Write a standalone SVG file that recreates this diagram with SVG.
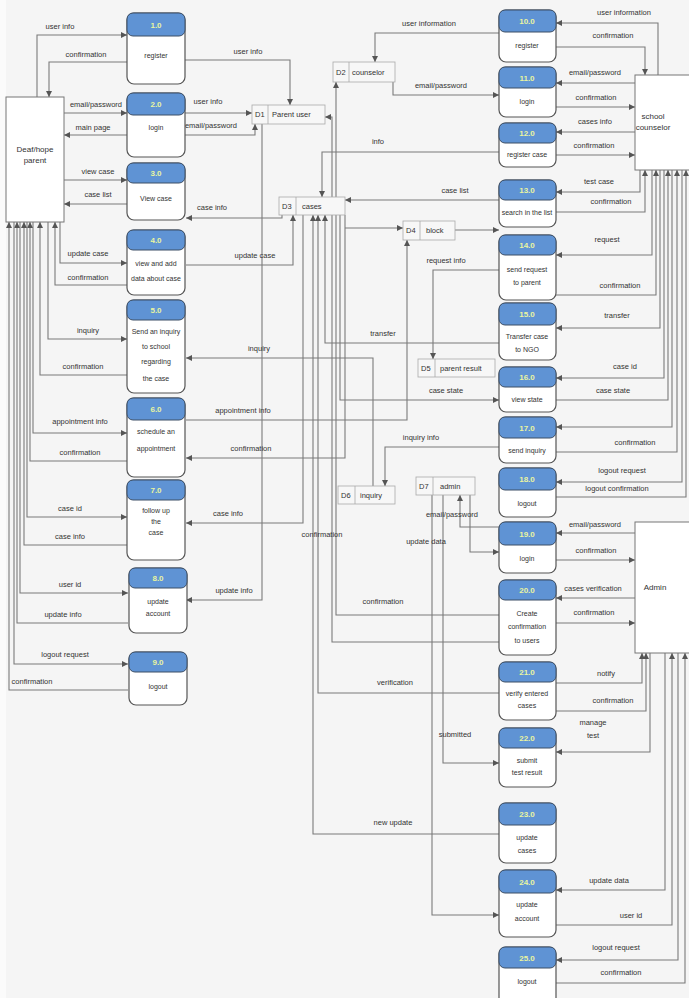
<svg xmlns="http://www.w3.org/2000/svg" width="689" height="998" viewBox="0 0 689 998">
<style>
.bg{fill:#f5f5f5}
.pb{fill:#ffffff;stroke:#555;stroke-width:1.2}
.ph{fill:#5f93d4;stroke:#3d4f66;stroke-width:1}
.pn{font-family:"Liberation Sans",Arial,sans-serif;font-size:8px;font-weight:bold;fill:#eaf5a0;text-anchor:middle}
.pt{font-family:"Liberation Sans",Arial,sans-serif;font-size:7px;fill:#333;text-anchor:middle}
.ent{fill:#ffffff;stroke:#777;stroke-width:1}
.et{font-family:"Liberation Sans",Arial,sans-serif;font-size:8px;fill:#333;text-anchor:middle}
.ds{fill:#f7f7f7;stroke:#aaa;stroke-width:0.8}
.dt{font-family:"Liberation Sans",Arial,sans-serif;font-size:7.5px;fill:#333}
.c{fill:none;stroke:#7a7a7a;stroke-width:1.1;marker-end:url(#ah)}
.cn{fill:none;stroke:#7a7a7a;stroke-width:1.1}
.l{font-family:"Liberation Sans",Arial,sans-serif;font-size:7.5px;fill:#333;text-anchor:middle}
</style>
<defs>
<marker id="ah" markerUnits="userSpaceOnUse" markerWidth="6" markerHeight="6" refX="6" refY="3" orient="auto">
<path d="M0,0 L6,3 L0,6 z" fill="#555"/>
</marker>
</defs>
<rect class="bg" x="0" y="0" width="689" height="998"/>
<rect x="0" y="0" width="6" height="998" fill="#fbfbfb"/>

<g id="connectors">
<!-- left entity flows -->
<polyline class="c" points="37,97 37,35 127,35"/>
<polyline class="c" points="127,62 49,62 49,97"/>
<polyline class="c" points="64,113 127,113"/>
<polyline class="c" points="127,135 64,135"/>
<polyline class="c" points="64,180 127,180"/>
<polyline class="c" points="127,204 64,204"/>
<polyline class="c" points="60,222 60,263 127,263"/>
<polyline class="c" points="127,285 55,285 55,222"/>
<polyline class="c" points="48,222 48,339 127,339"/>
<polyline class="c" points="127,375 40,375 40,222"/>
<polyline class="c" points="33,222 33,433 127,433"/>
<polyline class="c" points="127,461 30,461 30,222"/>
<polyline class="c" points="27,222 27,517 127,517"/>
<polyline class="c" points="127,545 24,545 24,222"/>
<polyline class="c" points="20,222 20,593 128,593"/>
<polyline class="c" points="128,623 17,623 17,222"/>
<polyline class="c" points="14,222 14,664 128,664"/>
<polyline class="c" points="128,690 9,690 9,222"/>
<!-- middle flows, left processes -->
<polyline class="c" points="185,60 290,60 290,105"/>
<polyline class="c" points="185,113 252,113"/>
<polyline class="c" points="185,135 255,135 255,124"/>
<polyline class="c" points="262,124 262,600 186,600"/>
<polyline class="c" points="282,215 282,218 186,218"/>
<polyline class="c" points="186,265 293,265 293,215"/>
<polyline class="c" points="373,486 373,358 186,358"/>
<polyline class="c" points="186,420 407,420 407,240"/>
<polyline class="c" points="345,215 345,458 186,458"/>
<polyline class="c" points="345,228 403,228"/>
<polyline class="c" points="303,215 303,523 186,523"/>
<!-- middle flows, right processes -->
<polyline class="c" points="499,33 375,33 375,62"/>
<polyline class="c" points="393,82 393,95 499,95"/>
<polyline class="c" points="499,152 322,152 322,197"/>
<polyline class="c" points="499,200 345,200"/>
<polyline class="c" points="455,230 499,230"/>
<polyline class="c" points="499,270 433,270 433,359"/>
<polyline class="c" points="499,343 325,343 325,215"/>
<polyline class="c" points="340,215 340,400 499,400"/>
<polyline class="c" points="499,447 385,447 385,486"/>
<polyline class="c" points="499,527 460,527 460,495"/>
<polyline class="c" points="470,495 470,552 499,552"/>
<polyline class="c" points="499,615 336,615 336,82"/>
<polyline class="c" points="499,642 332,642 332,117 325,117"/>
<polyline class="c" points="499,693 318,693 318,215"/>
<polyline class="c" points="443,495 443,763 499,763"/>
<polyline class="c" points="499,834 313,834 313,215"/>
<polyline class="c" points="432,495 432,915 499,915"/>
<!-- right entity flows: school counselor -->
<polyline class="c" points="658,75 658,23 556,23"/>
<polyline class="c" points="556,47 645,47 645,75"/>
<polyline class="c" points="635,83 556,83"/>
<polyline class="c" points="556,107 635,107"/>
<polyline class="c" points="635,132 556,132"/>
<polyline class="c" points="556,155 635,155"/>
<polyline class="c" points="640,170 640,192 556,192"/>
<polyline class="c" points="556,212 645,212 645,170"/>
<polyline class="c" points="652,170 652,255 556,255"/>
<polyline class="c" points="556,295 656,295 656,170"/>
<polyline class="c" points="660,170 660,328 556,328"/>
<polyline class="c" points="664,170 664,378 556,378"/>
<polyline class="c" points="556,400 668,400 668,170"/>
<polyline class="c" points="672,170 672,427 556,427"/>
<polyline class="c" points="556,452 677,452 677,170"/>
<polyline class="c" points="682,170 682,482 556,482"/>
<polyline class="c" points="556,497 686,497 686,170"/>
<!-- right entity flows: admin -->
<polyline class="c" points="635,533 556,533"/>
<polyline class="c" points="556,560 635,560"/>
<polyline class="c" points="635,598 556,598"/>
<polyline class="c" points="556,623 635,623"/>
<polyline class="c" points="556,683 642,683 642,653"/>
<polyline class="c" points="556,711 646,711 646,653"/>
<polyline class="c" points="650,653 650,752 556,752"/>
<polyline class="c" points="665,653 665,890 556,890"/>
<polyline class="c" points="556,925 672,925 672,653"/>
<polyline class="c" points="678,653 678,960 556,960"/>
<polyline class="c" points="556,983 685,983 685,653"/>
</g>

<g id="labels">
<text class="l" x="60" y="29">user info</text>
<text class="l" x="86" y="57">confirmation</text>
<text class="l" x="96" y="107">email/password</text>
<text class="l" x="93" y="130">main page</text>
<text class="l" x="98" y="174">view case</text>
<text class="l" x="98" y="197">case list</text>
<text class="l" x="88" y="256">update case</text>
<text class="l" x="88" y="280">confirmation</text>
<text class="l" x="88" y="333">inquiry</text>
<text class="l" x="83" y="369">confirmation</text>
<text class="l" x="80" y="424">appointment info</text>
<text class="l" x="80" y="455">confirmation</text>
<text class="l" x="70" y="511">case id</text>
<text class="l" x="70" y="539">case info</text>
<text class="l" x="70" y="587">user id</text>
<text class="l" x="63" y="617">update info</text>
<text class="l" x="65" y="657">logout request</text>
<text class="l" x="32" y="684">confirmation</text>
<text class="l" x="248" y="54">user info</text>
<text class="l" x="208" y="104">user info</text>
<text class="l" x="211" y="128">email/password</text>
<text class="l" x="234" y="593">update info</text>
<text class="l" x="212" y="210">case info</text>
<text class="l" x="255" y="258">update case</text>
<text class="l" x="259" y="351">inquiry</text>
<text class="l" x="243" y="413">appointment info</text>
<text class="l" x="251" y="451">confirmation</text>
<text class="l" x="228" y="516">case info</text>
<text class="l" x="322" y="537">confirmation</text>
<text class="l" x="429" y="26">user information</text>
<text class="l" x="441" y="88">email/password</text>
<text class="l" x="378" y="144">info</text>
<text class="l" x="455" y="193">case list</text>
<text class="l" x="446" y="263">request info</text>
<text class="l" x="383" y="336">transfer</text>
<text class="l" x="446" y="393">case state</text>
<text class="l" x="421" y="440">inquiry info</text>
<text class="l" x="452" y="517">email/password</text>
<text class="l" x="426" y="544">update data</text>
<text class="l" x="383" y="604">confirmation</text>
<text class="l" x="395" y="685">verification</text>
<text class="l" x="455" y="737">submitted</text>
<text class="l" x="393" y="825">new update</text>
<text class="l" x="624" y="15">user information</text>
<text class="l" x="613" y="38">confirmation</text>
<text class="l" x="595" y="75">email/password</text>
<text class="l" x="596" y="100">confirmation</text>
<text class="l" x="595" y="124">cases info</text>
<text class="l" x="594" y="148">confirmation</text>
<text class="l" x="599" y="184">test case</text>
<text class="l" x="611" y="204">confirmation</text>
<text class="l" x="607" y="242">request</text>
<text class="l" x="620" y="288">confirmation</text>
<text class="l" x="617" y="318">transfer</text>
<text class="l" x="625" y="369">case id</text>
<text class="l" x="613" y="393">case state</text>
<text class="l" x="635" y="445">confirmation</text>
<text class="l" x="622" y="473">logout request</text>
<text class="l" x="617" y="491">logout confirmation</text>
<text class="l" x="595" y="527">email/password</text>
<text class="l" x="596" y="553">confirmation</text>
<text class="l" x="593" y="591">cases verification</text>
<text class="l" x="594" y="615">confirmation</text>
<text class="l" x="606" y="676">notify</text>
<text class="l" x="613" y="703">confirmation</text>
<text class="l" x="593" y="725">manage</text>
<text class="l" x="593" y="738">test</text>
<text class="l" x="609" y="883">update data</text>
<text class="l" x="631" y="918">user id</text>
<text class="l" x="616" y="950">logout request</text>
<text class="l" x="621" y="975">confirmation</text>
</g>

<g id="E1"><rect class="ent" x="6" y="97" width="58" height="125"/><text class="et" x="35" y="152">Deaf/hope</text><text class="et" x="35" y="163">parent</text></g>
<g id="E2"><rect class="ent" x="635" y="75" width="60" height="95"/><text class="et" x="653" y="119">school</text><text class="et" x="653" y="130">counselor</text></g>
<g id="E3"><rect class="ent" x="635" y="522" width="60" height="131"/><text class="et" x="655" y="590">Admin</text></g>

<g id="D1"><rect class="ds" x="252" y="105" width="73" height="19"/><line x1="268" y1="105" x2="268" y2="124" stroke="#aaa" stroke-width="0.8"/><text class="dt" x="255" y="117">D1</text><text class="dt" x="272" y="117">Parent user</text></g>
<g id="D2"><rect class="ds" x="333" y="62" width="62" height="20"/><line x1="349" y1="62" x2="349" y2="82" stroke="#aaa" stroke-width="0.8"/><text class="dt" x="336" y="75">D2</text><text class="dt" x="352" y="75">counselor</text></g>
<g id="D3"><rect class="ds" x="279" y="197" width="66" height="18"/><line x1="296" y1="197" x2="296" y2="215" stroke="#aaa" stroke-width="0.8"/><text class="dt" x="282" y="209">D3</text><text class="dt" x="302" y="209">cases</text></g>
<g id="D4"><rect class="ds" x="403" y="221" width="52" height="19"/><line x1="420" y1="221" x2="420" y2="240" stroke="#aaa" stroke-width="0.8"/><text class="dt" x="406" y="233">D4</text><text class="dt" x="426" y="233">block</text></g>
<g id="D5"><rect class="ds" x="418" y="359" width="77" height="18"/><line x1="435" y1="359" x2="435" y2="377" stroke="#aaa" stroke-width="0.8"/><text class="dt" x="421" y="371">D5</text><text class="dt" x="440" y="371">parent result</text></g>
<g id="D6"><rect class="ds" x="338" y="486" width="57" height="18"/><line x1="355" y1="486" x2="355" y2="504" stroke="#aaa" stroke-width="0.8"/><text class="dt" x="341" y="498">D6</text><text class="dt" x="360" y="498">inquiry</text></g>
<g id="D7"><rect class="ds" x="416" y="477" width="59" height="18"/><line x1="433" y1="477" x2="433" y2="495" stroke="#aaa" stroke-width="0.8"/><text class="dt" x="419" y="489">D7</text><text class="dt" x="440" y="489">admin</text></g>

<g id="P1"><rect class="pb" x="127" y="13" width="58" height="71" rx="7"/><rect class="ph" x="127" y="13" width="58" height="23" rx="6"/><text class="pn" x="156" y="28">1.0</text><text class="pt" x="156" y="58">register</text></g>
<g id="P2"><rect class="pb" x="127" y="93" width="58" height="64" rx="7"/><rect class="ph" x="127" y="93" width="58" height="22" rx="6"/><text class="pn" x="156" y="107">2.0</text><text class="pt" x="156" y="130">login</text></g>
<g id="P3"><rect class="pb" x="127" y="163" width="58" height="57" rx="7"/><rect class="ph" x="127" y="163" width="58" height="20" rx="6"/><text class="pn" x="156" y="176">3.0</text><text class="pt" x="156" y="201">View case</text></g>
<g id="P4"><rect class="pb" x="127" y="230" width="58" height="65" rx="7"/><rect class="ph" x="127" y="230" width="58" height="20" rx="6"/><text class="pn" x="156" y="243">4.0</text><text class="pt" x="156" y="266">view and add</text><text class="pt" x="156" y="281">data about case</text></g>
<g id="P5"><rect class="pb" x="127" y="300" width="58" height="93" rx="7"/><rect class="ph" x="127" y="300" width="58" height="20" rx="6"/><text class="pn" x="156" y="313">5.0</text><text class="pt" x="156" y="334">Send an inquiry</text><text class="pt" x="156" y="349">to school</text><text class="pt" x="156" y="364">regarding</text><text class="pt" x="156" y="381">the case</text></g>
<g id="P6"><rect class="pb" x="127" y="398" width="58" height="79" rx="7"/><rect class="ph" x="127" y="398" width="58" height="22" rx="6"/><text class="pn" x="156" y="412">6.0</text><text class="pt" x="156" y="434">schedule an</text><text class="pt" x="156" y="451">appointment</text></g>
<g id="P7"><rect class="pb" x="127" y="480" width="58" height="80" rx="7"/><rect class="ph" x="127" y="480" width="58" height="20" rx="6"/><text class="pn" x="156" y="493">7.0</text><text class="pt" x="156" y="513">follow up</text><text class="pt" x="156" y="524">the</text><text class="pt" x="156" y="535">case</text></g>
<g id="P8"><rect class="pb" x="129" y="568" width="58" height="65" rx="7"/><rect class="ph" x="129" y="568" width="58" height="20" rx="6"/><text class="pn" x="158" y="581">8.0</text><text class="pt" x="158" y="604">update</text><text class="pt" x="158" y="616">account</text></g>
<g id="P9"><rect class="pb" x="129" y="652" width="58" height="53" rx="7"/><rect class="ph" x="129" y="652" width="58" height="20" rx="6"/><text class="pn" x="158" y="665">9.0</text><text class="pt" x="158" y="689">logout</text></g>

<g id="P10"><rect class="pb" x="499" y="10" width="57" height="52" rx="7"/><rect class="ph" x="499" y="10" width="57" height="22" rx="6"/><text class="pn" x="527" y="24">10.0</text><text class="pt" x="527" y="48">register</text></g>
<g id="P11"><rect class="pb" x="499" y="67" width="57" height="50" rx="7"/><rect class="ph" x="499" y="67" width="57" height="21" rx="6"/><text class="pn" x="527" y="81">11.0</text><text class="pt" x="527" y="104">login</text></g>
<g id="P12"><rect class="pb" x="499" y="123" width="57" height="44" rx="7"/><rect class="ph" x="499" y="123" width="57" height="20" rx="6"/><text class="pn" x="527" y="136">12.0</text><text class="pt" x="527" y="157">register case</text></g>
<g id="P13"><rect class="pb" x="499" y="180" width="57" height="47" rx="7"/><rect class="ph" x="499" y="180" width="57" height="20" rx="6"/><text class="pn" x="527" y="193">13.0</text><text class="pt" x="527" y="215">search in the list</text></g>
<g id="P14"><rect class="pb" x="499" y="235" width="57" height="65" rx="7"/><rect class="ph" x="499" y="235" width="57" height="20" rx="6"/><text class="pn" x="527" y="248">14.0</text><text class="pt" x="527" y="272">send request</text><text class="pt" x="527" y="285">to parent</text></g>
<g id="P15"><rect class="pb" x="499" y="303" width="57" height="57" rx="7"/><rect class="ph" x="499" y="303" width="57" height="22" rx="6"/><text class="pn" x="527" y="317">15.0</text><text class="pt" x="527" y="339">Transfer case</text><text class="pt" x="527" y="352">to NGO</text></g>
<g id="P16"><rect class="pb" x="499" y="367" width="57" height="45" rx="7"/><rect class="ph" x="499" y="367" width="57" height="20" rx="6"/><text class="pn" x="527" y="380">16.0</text><text class="pt" x="527" y="402">view state</text></g>
<g id="P17"><rect class="pb" x="499" y="417" width="57" height="46" rx="7"/><rect class="ph" x="499" y="417" width="57" height="21" rx="6"/><text class="pn" x="527" y="431">17.0</text><text class="pt" x="527" y="453">send inquiry</text></g>
<g id="P18"><rect class="pb" x="499" y="468" width="57" height="49" rx="7"/><rect class="ph" x="499" y="468" width="57" height="22" rx="6"/><text class="pn" x="527" y="482">18.0</text><text class="pt" x="527" y="506">logout</text></g>
<g id="P19"><rect class="pb" x="499" y="522" width="57" height="51" rx="7"/><rect class="ph" x="499" y="522" width="57" height="23" rx="6"/><text class="pn" x="527" y="537">19.0</text><text class="pt" x="527" y="561">login</text></g>
<g id="P20"><rect class="pb" x="499" y="580" width="57" height="75" rx="7"/><rect class="ph" x="499" y="580" width="57" height="20" rx="6"/><text class="pn" x="527" y="593">20.0</text><text class="pt" x="527" y="616">Create</text><text class="pt" x="527" y="629">confirmation</text><text class="pt" x="527" y="643">to users</text></g>
<g id="P21"><rect class="pb" x="499" y="662" width="57" height="58" rx="7"/><rect class="ph" x="499" y="662" width="57" height="20" rx="6"/><text class="pn" x="527" y="675">21.0</text><text class="pt" x="527" y="696">verify entered</text><text class="pt" x="527" y="708">cases</text></g>
<g id="P22"><rect class="pb" x="499" y="728" width="57" height="59" rx="7"/><rect class="ph" x="499" y="728" width="57" height="20" rx="6"/><text class="pn" x="527" y="741">22.0</text><text class="pt" x="527" y="763">submit</text><text class="pt" x="527" y="775">test result</text></g>
<g id="P23"><rect class="pb" x="499" y="803" width="57" height="60" rx="7"/><rect class="ph" x="499" y="803" width="57" height="22" rx="6"/><text class="pn" x="527" y="817">23.0</text><text class="pt" x="527" y="840">update</text><text class="pt" x="527" y="853">cases</text></g>
<g id="P24"><rect class="pb" x="499" y="870" width="57" height="67" rx="7"/><rect class="ph" x="499" y="870" width="57" height="23" rx="6"/><text class="pn" x="527" y="885">24.0</text><text class="pt" x="527" y="907">update</text><text class="pt" x="527" y="921">account</text></g>
<g id="P25"><rect class="pb" x="499" y="947" width="57" height="60" rx="7"/><rect class="ph" x="499" y="947" width="57" height="21" rx="6"/><text class="pn" x="527" y="961">25.0</text><text class="pt" x="527" y="984">logout</text></g>
</svg>
